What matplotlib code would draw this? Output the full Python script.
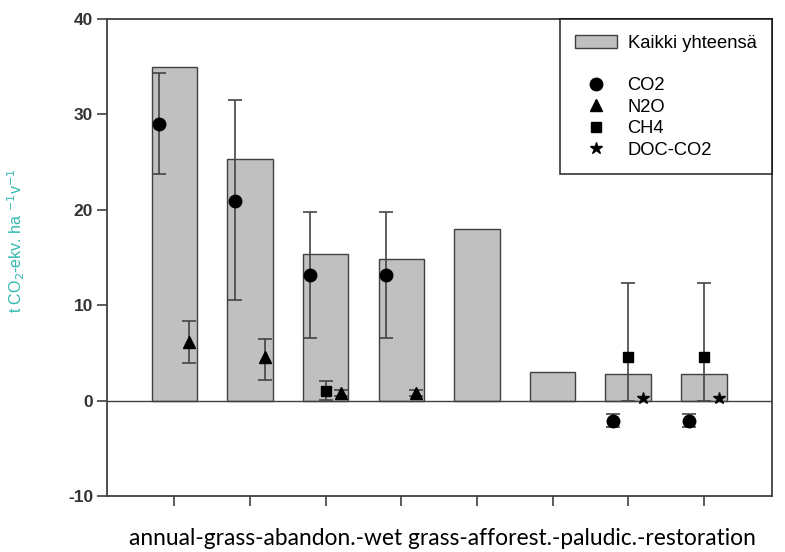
import numpy as np
import matplotlib.pyplot as plt
from matplotlib.lines import Line2D
from matplotlib.patches import Patch

plt.rcParams['font.family'] = ['Liberation Sans', 'DejaVu Sans']
plt.rcParams['axes.unicode_minus'] = False

# totals per land use class (bars), t CO2-ekv / ha / v
positions = [1, 2, 3, 4, 5, 6, 7, 8]
total = [35.0, 25.3, 15.4, 14.9, 18.0, 3.0, 2.8, 2.8]

# gas components (nan = not shown)
co2 = [29.0, 20.9, 13.2, 13.2, np.nan, np.nan, -2.1, -2.1]
co2_lo = [5.2, 10.3, 6.6, 6.6, 0, 0, 0.7, 0.7]
co2_hi = [5.4, 10.6, 6.6, 6.6, 0, 0, 0.7, 0.7]

n2o = [6.2, 4.6, 0.8, 0.8, np.nan, np.nan, np.nan, np.nan]
n2o_lo = [2.3, 2.4, 0.3, 0.3, 0, 0, 0, 0]
n2o_hi = [2.2, 1.9, 0.3, 0.3, 0, 0, 0, 0]

ch4 = [np.nan, np.nan, 1.0, np.nan, np.nan, np.nan, 4.6, 4.6]
ch4_lo = [0, 0, 0.9, 0, 0, 0, 4.6, 4.6]
ch4_hi = [0, 0, 1.1, 0, 0, 0, 7.7, 7.7]

doc = [np.nan, np.nan, np.nan, np.nan, np.nan, np.nan, 0.3, 0.3]

xlabel = 'annual-grass-abandon.-wet grass-afforest.-paludic.-restoration'

x = np.array(positions, dtype=float)
fig = plt.figure(figsize=(7.85, 5.52), dpi=100)
ax = fig.add_axes([0.1363, 0.1014, 0.847, 0.864])

ax.bar(x, total, width=0.6, color='#c0c0c0', edgecolor='#404040', linewidth=1.0, zorder=2)
ax.axhline(0, color='#404040', lw=1.0, zorder=3)

ekw = dict(ecolor='#444444', elinewidth=1.2, capsize=5, capthick=1.2, linestyle='none', zorder=4)
ax.errorbar(x - 0.2, co2, yerr=[co2_lo, co2_hi], marker='o', ms=9, color='black', **ekw)
ax.errorbar(x + 0.2, n2o, yerr=[n2o_lo, n2o_hi], marker='^', ms=9, color='black', **ekw)
ax.errorbar(x, ch4, yerr=[ch4_lo, ch4_hi], marker='s', ms=7.5, color='black', **ekw)
ax.plot(x + 0.2, doc, linestyle='none', marker='*', ms=9, color='black', zorder=5)

ax.set_xlim(0.11, 8.9)
ax.set_ylim(-10, 40)
ax.set_yticks([-10, 0, 10, 20, 30, 40])
ax.set_xticks(positions)
ax.set_xticklabels([])
ax.tick_params(direction='out', length=7, width=1.2, color='#404040', pad=3,
               labelsize=12.5, labelcolor='#333333')
for lab in ax.get_yticklabels():
    lab.set_fontweight('bold')
for s in ax.spines.values():
    s.set_color('#404040')
    s.set_linewidth(1.3)

ax.set_ylabel('t CO$_2$-ekv. ha $^{-1}$v$^{-1}$', color='#30b8b0', fontsize=11.5)
ax.yaxis.set_label_coords(-0.12, 0.535)

handles = [
    Patch(facecolor='#c0c0c0', edgecolor='#404040', label='Kaikki yhteensä'),
    Line2D([], [], linestyle='none', label=' '),
    Line2D([], [], linestyle='none', marker='o', ms=9, color='black', label='CO2'),
    Line2D([], [], linestyle='none', marker='^', ms=9, color='black', label='N2O'),
    Line2D([], [], linestyle='none', marker='s', ms=7.5, color='black', label='CH4'),
    Line2D([], [], linestyle='none', marker='*', ms=9, color='black', label='DOC-CO2'),
]
leg = ax.legend(handles=handles, loc='upper right', borderaxespad=0, fancybox=False,
                fontsize=13.2, handlelength=2.3, handletextpad=0.55, labelspacing=0.24,
                borderpad=0.85)
leg.get_frame().set_edgecolor('black')
leg.get_frame().set_linewidth(1.2)

fig.text(0.563, 0.025, xlabel, ha='center', va='center', fontsize=16.4,
         family=['Lato', 'DejaVu Sans'], transform=fig.transFigure)

fig.savefig('out.png', dpi=100)
